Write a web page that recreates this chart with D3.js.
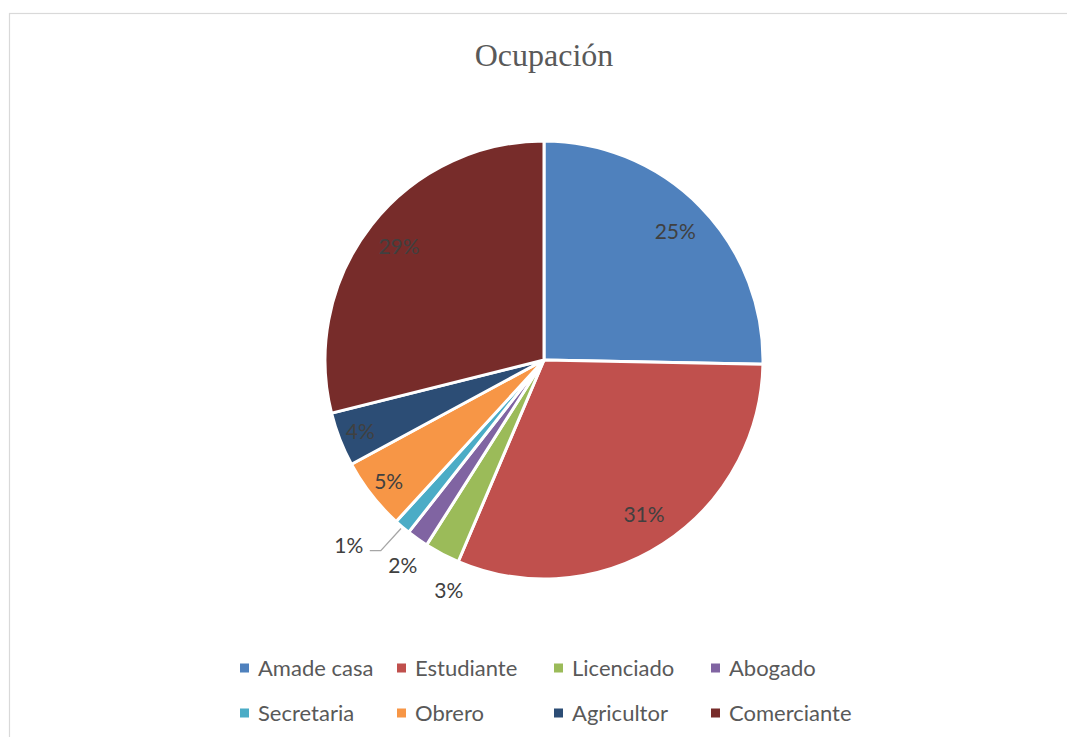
<!DOCTYPE html>
<html>
<head>
<meta charset="utf-8">
<script src="https://cdn.jsdelivr.net/npm/d3@7"></script>
<style>
  body { margin: 0; background: #fff; }
  svg { display: block; }
</style>
</head>
<body>
<script>
let w = 1067;
let h = 737;

// datos (porcentajes)
let categories = ["Amade casa", "Estudiante", "Licenciado", "Abogado", "Secretaria", "Obrero", "Agricultor", "Comerciante"];
let values = [25.3, 31.1, 2.6, 1.6, 1.2, 5.3, 4.0, 28.9];
let colors = ["#4F81BD", "#C0504D", "#9BBB59", "#8064A2", "#4BACC6", "#F79646", "#2C4D75", "#772C2A"];
let title = "Ocupación";

let cx = 544, cy = 360, r = 219;
let svg = d3.select("body").append("svg").attr("width", w).attr("height", h);

// marco
svg.append("rect")
  .attr("x", 9.5).attr("y", 13.5)
  .attr("width", 1080).attr("height", 800)
  .attr("fill", "none").attr("stroke", "#d9d9d9").attr("stroke-width", 1.2);

svg.append("text")
  .text(title)
  .attr("x", cx).attr("y", 66)
  .attr("text-anchor", "middle")
  .attr("font-family", "Liberation Serif, serif")
  .attr("font-size", 32)
  .attr("fill", "#595959");

let pie = d3.pie().sort(null).value(d => d);
let arcs = pie(values);
let arc = d3.arc().innerRadius(0).outerRadius(r);

let g = svg.append("g").attr("transform", `translate(${cx},${cy})`);

g.selectAll("path")
  .data(arcs)
  .enter()
  .append("path")
  .attr("d", arc)
  .attr("fill", (d, i) => colors[i])
  .attr("stroke", "#fff")
  .attr("stroke-width", 3)
  .attr("stroke-linejoin", "miter");

// etiquetas
let mid = d => (d.startAngle + d.endAngle) / 2;
let deg = Math.PI / 180;
let labels = arcs.map((d, i) => {
  let outside = d.value < 3;
  let ratio = outside ? 1.14 : (d.value >= 10 ? 0.84 : 0.9);
  return { d, i, outside, a: mid(d), rr: r * ratio, text: Math.round(d.value) + "%" };
});

// separar etiquetas externas
let outs = labels.filter(l => l.outside).sort((a, b) => a.a - b.a);
let minGap = 12 * deg;
for (let k = 0; k < 200; k++) {
  for (let j = 1; j < outs.length; j++) {
    let gap = outs[j].a - outs[j - 1].a;
    if (gap < minGap) {
      let push = (minGap - gap) / 2;
      outs[j].a += push;
      outs[j - 1].a -= push;
    }
  }
}
labels.forEach(l => {
  // linea guia solo si la etiqueta salio de su sector
  l.leader = l.outside && (l.a < l.d.startAngle - 2 * deg || l.a > l.d.endAngle + 2 * deg);
  if (l.leader) l.rr = r * 1.23;
  l.x = Math.sin(l.a) * l.rr;
  l.y = -Math.cos(l.a) * l.rr;
});

g.selectAll("path.leader")
  .data(labels.filter(l => l.leader))
  .enter()
  .append("path")
  .attr("class", "leader")
  .attr("d", l => {
    let p0 = [Math.sin(mid(l.d)) * (r + 2), -Math.cos(mid(l.d)) * (r + 2)];
    let ex = l.x + 21, ey = l.y + 5;
    return `M${p0[0]},${p0[1]}L${ex + 11},${ey}L${ex},${ey}`;
  })
  .attr("fill", "none")
  .attr("stroke", "#a6a6a6")
  .attr("stroke-width", 1.3);

g.selectAll("text.lbl")
  .data(labels)
  .enter()
  .append("text")
  .attr("class", "lbl")
  .text(l => l.text)
  .attr("x", l => l.x)
  .attr("y", l => l.y)
  .attr("dy", "0.35em")
  .attr("text-anchor", "middle")
  .attr("font-family", "Lato, sans-serif")
  .attr("font-size", 21)
  .attr("fill", "#404040");

// leyenda
let colW = 157, legX = 240, rowY = [668, 713];
let leg = svg.selectAll("g.leg")
  .data(categories)
  .enter()
  .append("g")
  .attr("class", "leg")
  .attr("transform", (d, i) => `translate(${legX + (i % 4) * colW},${rowY[Math.floor(i / 4)]})`);

leg.append("rect")
  .attr("x", 0).attr("y", -4.5)
  .attr("width", 9).attr("height", 9)
  .attr("fill", (d, i) => colors[i]);

leg.append("text")
  .text(d => d)
  .attr("x", 18)
  .attr("dy", "0.35em")
  .attr("font-family", "Lato, sans-serif")
  .attr("font-size", 22)
  .attr("fill", "#595959");
</script>
</body>
</html>
